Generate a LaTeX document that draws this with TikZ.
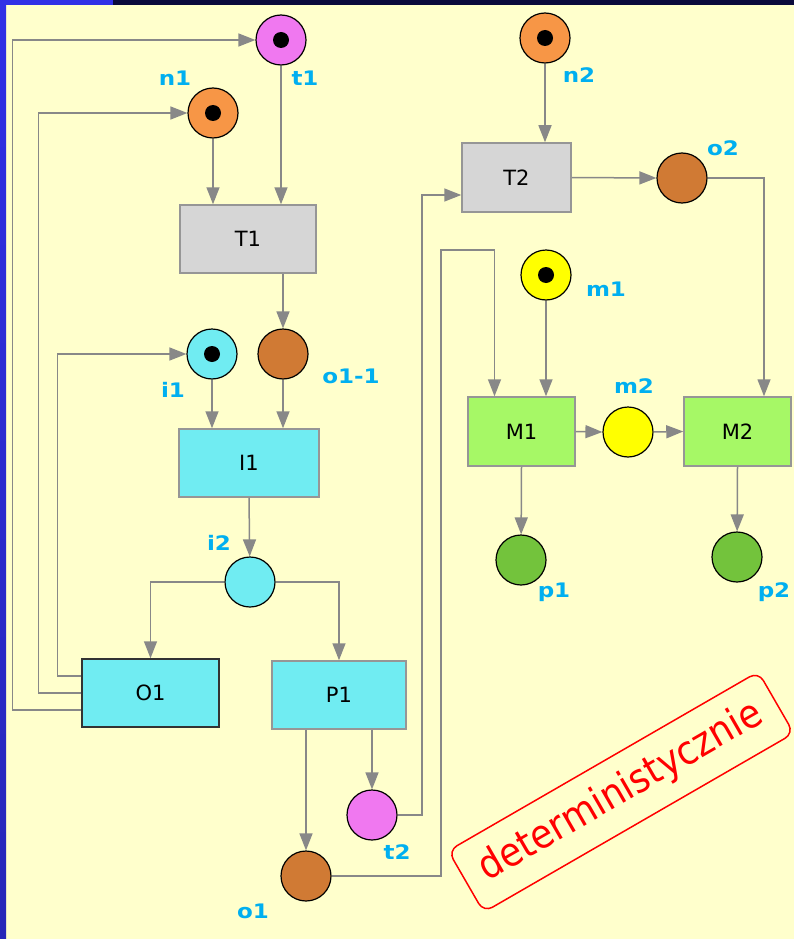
\documentclass[tikz,border=0pt]{standalone}
\usepackage{fontspec}
\setmainfont{DejaVu Sans}
\newfontfamily\labfont[FakeStretch=1.15]{DejaVu Sans}
\newfontfamily\detfont{DejaVu Sans Condensed}
\usetikzlibrary{arrows.meta}
\definecolor{bgyel}{RGB}{255,255,204}
\definecolor{edgeblue}{RGB}{48,48,230}
\definecolor{edgenavy}{RGB}{10,10,60}
\definecolor{edgedark}{RGB}{0,0,20}
\definecolor{pinkpl}{RGB}{240,120,240}
\definecolor{orangepl}{RGB}{247,150,70}
\definecolor{brownpl}{RGB}{208,122,52}
\definecolor{cyanpl}{RGB}{112,236,242}
\definecolor{yellowpl}{RGB}{255,255,0}
\definecolor{greenpl}{RGB}{115,195,60}
\definecolor{greenbox}{RGB}{166,248,102}
\definecolor{graybox}{RGB}{214,214,214}
\definecolor{boxline}{RGB}{150,150,150}
\definecolor{arcgray}{RGB}{136,136,136}
\definecolor{labblue}{RGB}{0,175,240}
\begin{document}
\begin{tikzpicture}[x=1pt,y=-1pt,
place/.style={draw=black, circle, line width=1.2pt, minimum size=50pt, inner sep=0pt},
tokplace/.style={place, path picture={\fill[black] (path picture bounding box.center) circle (8pt);}},
trans/.style={draw=boxline, rectangle, line width=1.5pt, inner sep=0pt, font=\fontsize{21}{25}\selectfont},
lab/.style={text=labblue, font=\labfont\bfseries\fontsize{20}{24}\selectfont, inner sep=0pt},
arc/.style={draw=arcgray, line width=1.5pt, -{Triangle[length=17pt,width=13pt]}}]
\useasboundingbox (0,0) rectangle (794,939);
\fill[bgyel] (0,0) rectangle (794,939);
\shade[top color=edgeblue, middle color=edgedark, bottom color=edgeblue!80!black] (0,0) rectangle (6,939);
\fill[edgeblue] (0,0) rectangle (113,5);
\fill[edgenavy] (113,0) rectangle (794,5);

\node (t1) at (281,40) [tokplace, fill=pinkpl] {};
\node (n1) at (213,113) [tokplace, fill=orangepl] {};
\node (T1) at (248,239) [trans, fill=graybox, minimum width=136pt, minimum height=68pt] {T1};
\node (i1) at (212,354) [tokplace, fill=cyanpl] {};
\node (o11) at (283,354) [place, fill=brownpl] {};
\node (I1) at (249,463) [trans, fill=cyanpl, minimum width=140pt, minimum height=68pt] {I1};
\node (i2) at (250,582) [place, fill=cyanpl] {};
\node (O1) at (150.5,693) [trans, draw=black!80, fill=cyanpl, minimum width=137pt, minimum height=68pt] {O1};
\node (P1) at (339,695) [trans, fill=cyanpl, minimum width=134pt, minimum height=68pt] {P1};
\node (t2) at (372,815) [place, fill=pinkpl] {};
\node (o1) at (306,876) [place, fill=brownpl] {};

\node (n2) at (545,38) [tokplace, fill=orangepl] {};
\node (T2) at (516.5,177.5) [trans, fill=graybox, minimum width=109pt, minimum height=69pt] {T2};
\node (o2) at (682,178) [place, fill=brownpl] {};
\node (m1) at (546,275) [tokplace, fill=yellowpl] {};
\node (M1) at (521.5,431.5) [trans, fill=greenbox, minimum width=107pt, minimum height=69pt] {M1};
\node (m2) at (628,432) [place, fill=yellowpl] {};
\node (M2) at (737.5,431.5) [trans, fill=greenbox, minimum width=107pt, minimum height=69pt] {M2};
\node (p1) at (521,560) [place, fill=greenpl] {};
\node (p2) at (737,557) [place, fill=greenpl] {};

\node (t1l) at (305,78) [lab] {t1};
\node (n1l) at (175,78) [lab] {n1};
\node (o11l) at (351,376) [lab] {o1-1};
\node (i1l) at (173,390) [lab] {i1};
\node (i2l) at (219,543) [lab] {i2};
\node (o1l) at (253,911) [lab] {o1};
\node (t2l) at (397,852) [lab] {t2};
\node (n2l) at (579,75) [lab] {n2};
\node (o2l) at (723,148) [lab] {o2};
\node (m1l) at (606,289) [lab] {m1};
\node (m2l) at (634,386) [lab] {m2};
\node (p1l) at (554,592) [lab] {p1};
\node (p2l) at (774,592) [lab] {p2};

\coordinate (t2up) at (422,195);
\coordinate (o1up) at (441,250);

\draw[arc] (n1) -- (n1 |- T1.north);
\draw[arc] (t1) -- (t1 |- T1.north);
\draw[arc] (T1.south -| o11) -- (o11);
\draw[arc] (i1) -- (i1 |- I1.north);
\draw[arc] (o11) -- (o11 |- I1.north);
\draw[arc] (I1.south) -- (i2);
\draw[arc] (i2.west) -| (O1.north);
\draw[arc] (i2.east) -| (P1.north);
\draw[arc] (P1.south -| o1) -- (o1);
\draw[arc] (P1.south -| t2) -- (t2);
\draw[arc] ([yshift=17pt]O1.west) -- ++(-24,0) |- (i1.west);
\draw[arc] (O1.west) -- ++(-43,0) |- (n1.west);
\draw[arc] ([yshift=-17pt]O1.west) -- ++(-69,0) |- (t1.west);
\draw[arc] (t2.east) -| (t2up) -- (t2up -| T2.west);
\draw[arc] (o1.east) -| (o1up) -| ([xshift=-27pt]M1.north);
\draw[arc] (n2) -- (n2 |- T2.north);
\draw[arc] (T2.east) -- (o2.west);
\draw[arc] (o2.east) -| ([xshift=26.5pt]M2.north);
\draw[arc] (m1) -- (m1 |- M1.north);
\draw[arc] (M1.east) -- (m2.west);
\draw[arc] (m2.east) -- (M2.west);
\draw[arc] (M1.south) -- (p1);
\draw[arc] (M2.south) -- (p2);

\node (det) at (621,792) [draw=red, rounded corners=10pt, line width=1.5pt, rotate=30, minimum width=358pt, minimum height=71pt, text=red, font=\detfont\fontsize{40}{44}\selectfont] {deterministycznie};
\end{tikzpicture}
\end{document}
